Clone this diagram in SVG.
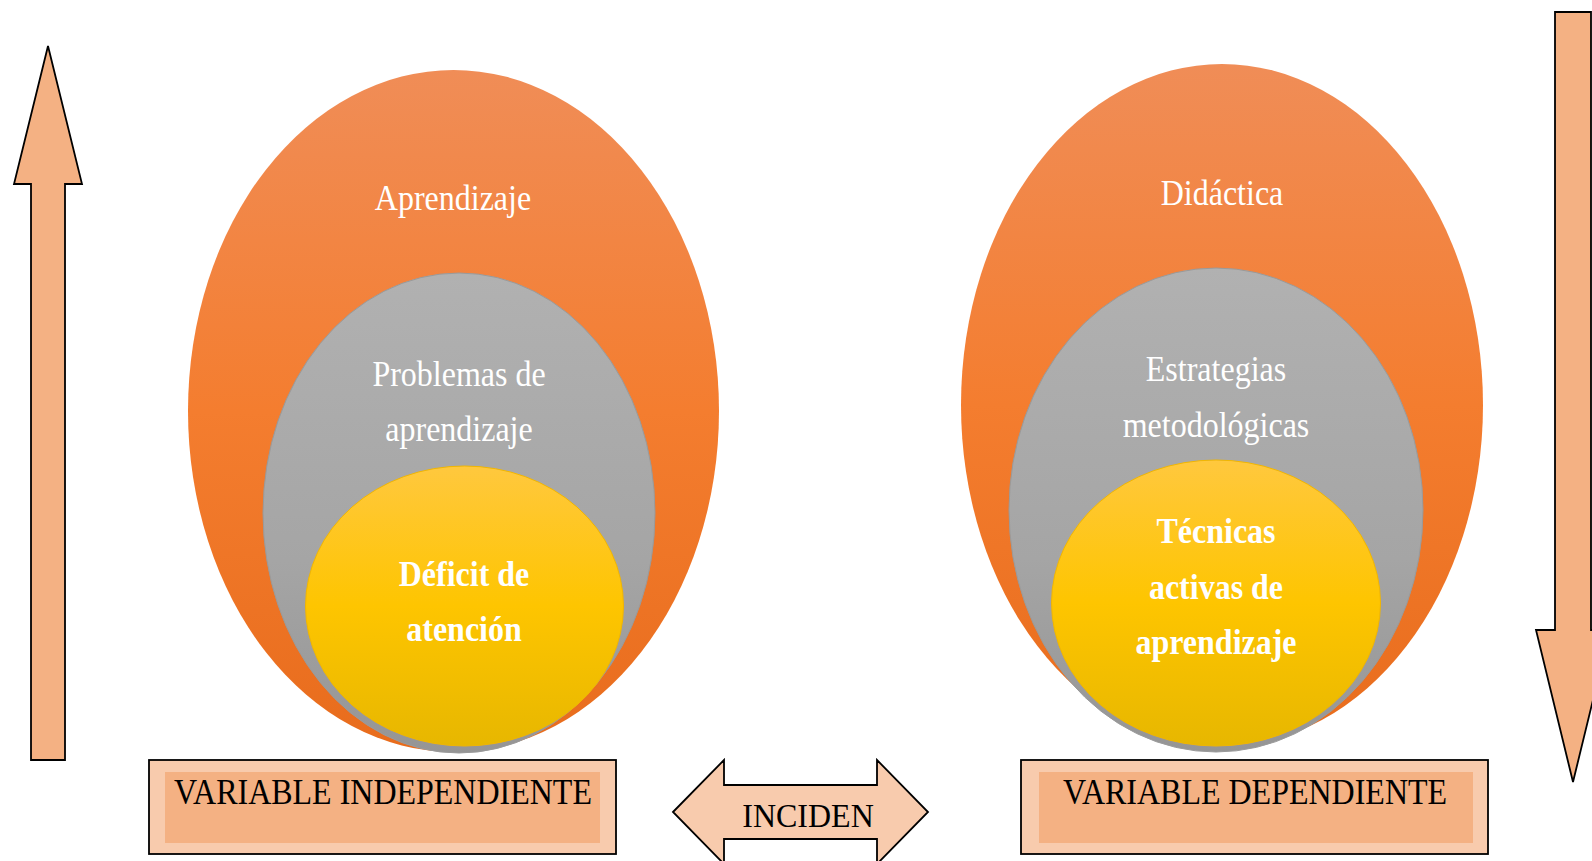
<svg xmlns="http://www.w3.org/2000/svg" width="1592" height="861" viewBox="0 0 1592 861">
<style>
.t{font-family:"Liberation Serif","Times New Roman",serif;font-size:32px;text-anchor:middle}
.w{fill:#ffffff}
.b{font-weight:bold}
.k{fill:#000000}
.arrow{fill:#F4B183;stroke:#000;stroke-width:1.8;stroke-linejoin:miter}
.boxo{fill:#F8CBAD;stroke:#000;stroke-width:1.8}
.boxi{fill:#F4B183}
</style>
<defs>
<linearGradient id="gO" x1="0" y1="0" x2="0" y2="1">
<stop offset="0" stop-color="#F08D57"/>
<stop offset="0.5" stop-color="#F47D2F"/>
<stop offset="1" stop-color="#E86C1C"/>
</linearGradient>
<linearGradient id="gG" x1="0" y1="0" x2="0" y2="1">
<stop offset="0" stop-color="#B1B1B1"/>
<stop offset="0.6" stop-color="#A5A5A5"/>
<stop offset="1" stop-color="#959595"/>
</linearGradient>
<linearGradient id="gY" x1="0" y1="0" x2="0" y2="1">
<stop offset="0" stop-color="#FFC83E"/>
<stop offset="0.5" stop-color="#FEC500"/>
<stop offset="1" stop-color="#E7B700"/>
</linearGradient>
</defs>
<rect width="1592" height="861" fill="#ffffff"/>

<g id="arrow-up">
<polygon class="arrow" points="48,46 82,184 65,184 65,760 31,760 31,184 14,184"/>
</g>

<g id="arrow-down">
<polygon class="arrow" points="1555,12 1591,12 1591,630 1610,630 1573,782 1536,630 1555,630"/>
</g>

<g id="left-circles">
<ellipse cx="453.5" cy="411" rx="265.5" ry="341" fill="url(#gO)"/>
<ellipse cx="459" cy="513" rx="196" ry="240" fill="url(#gG)" stroke="#9A9A9A" stroke-width="1"/>
<ellipse cx="464.5" cy="606" rx="159" ry="140" fill="url(#gY)" stroke="#F2B600" stroke-width="1"/>
<text class="t w" transform="translate(453,210) scale(1,1.1)">Aprendizaje</text>
<text class="t w" transform="translate(459,386) scale(1,1.1)">Problemas de</text>
<text class="t w" transform="translate(459,441) scale(1,1.1)">aprendizaje</text>
<text class="t w b" transform="translate(464,586) scale(1,1.1)">Déficit de</text>
<text class="t w b" transform="translate(464,641) scale(1,1.1)">atención</text>
</g>

<g id="right-circles">
<ellipse cx="1222" cy="405" rx="261" ry="341" fill="url(#gO)"/>
<ellipse cx="1216" cy="510" rx="207" ry="242" fill="url(#gG)" stroke="#9A9A9A" stroke-width="1"/>
<ellipse cx="1216" cy="603" rx="164.5" ry="143" fill="url(#gY)" stroke="#F2B600" stroke-width="1"/>
<text class="t w" transform="translate(1222,205) scale(1,1.1)">Didáctica</text>
<text class="t w" transform="translate(1216,381) scale(1,1.1)">Estrategias</text>
<text class="t w" transform="translate(1216,437) scale(1,1.1)">metodológicas</text>
<text class="t w b" transform="translate(1216,543) scale(1,1.1)">Técnicas</text>
<text class="t w b" transform="translate(1216,599) scale(1,1.1)">activas de</text>
<text class="t w b" transform="translate(1216,654) scale(1,1.1)">aprendizaje</text>
</g>

<g id="box-independiente">
<rect class="boxo" x="149" y="760" width="467" height="94"/>
<rect class="boxi" x="165" y="772" width="435" height="71"/>
<text class="t k" transform="translate(383,804) scale(1,1.1)">VARIABLE INDEPENDIENTE</text>
</g>

<g id="box-dependiente">
<rect class="boxo" x="1021" y="760" width="467" height="94"/>
<rect class="boxi" x="1039" y="772" width="434" height="71"/>
<text class="t k" transform="translate(1255,804) scale(1,1.1)">VARIABLE DEPENDIENTE</text>
</g>

<g id="connectors">
<g id="incide-arrow">
<polygon points="673,812 724,760 724,785 877,785 877,760 928,812 877,864 877,839 724,839 724,864" fill="#F8CBAD" stroke="#000" stroke-width="1.8"/>
<text class="t k" transform="translate(808,827) scale(1,1.08)">INCIDEN</text>
</g>
</g>
</svg>
